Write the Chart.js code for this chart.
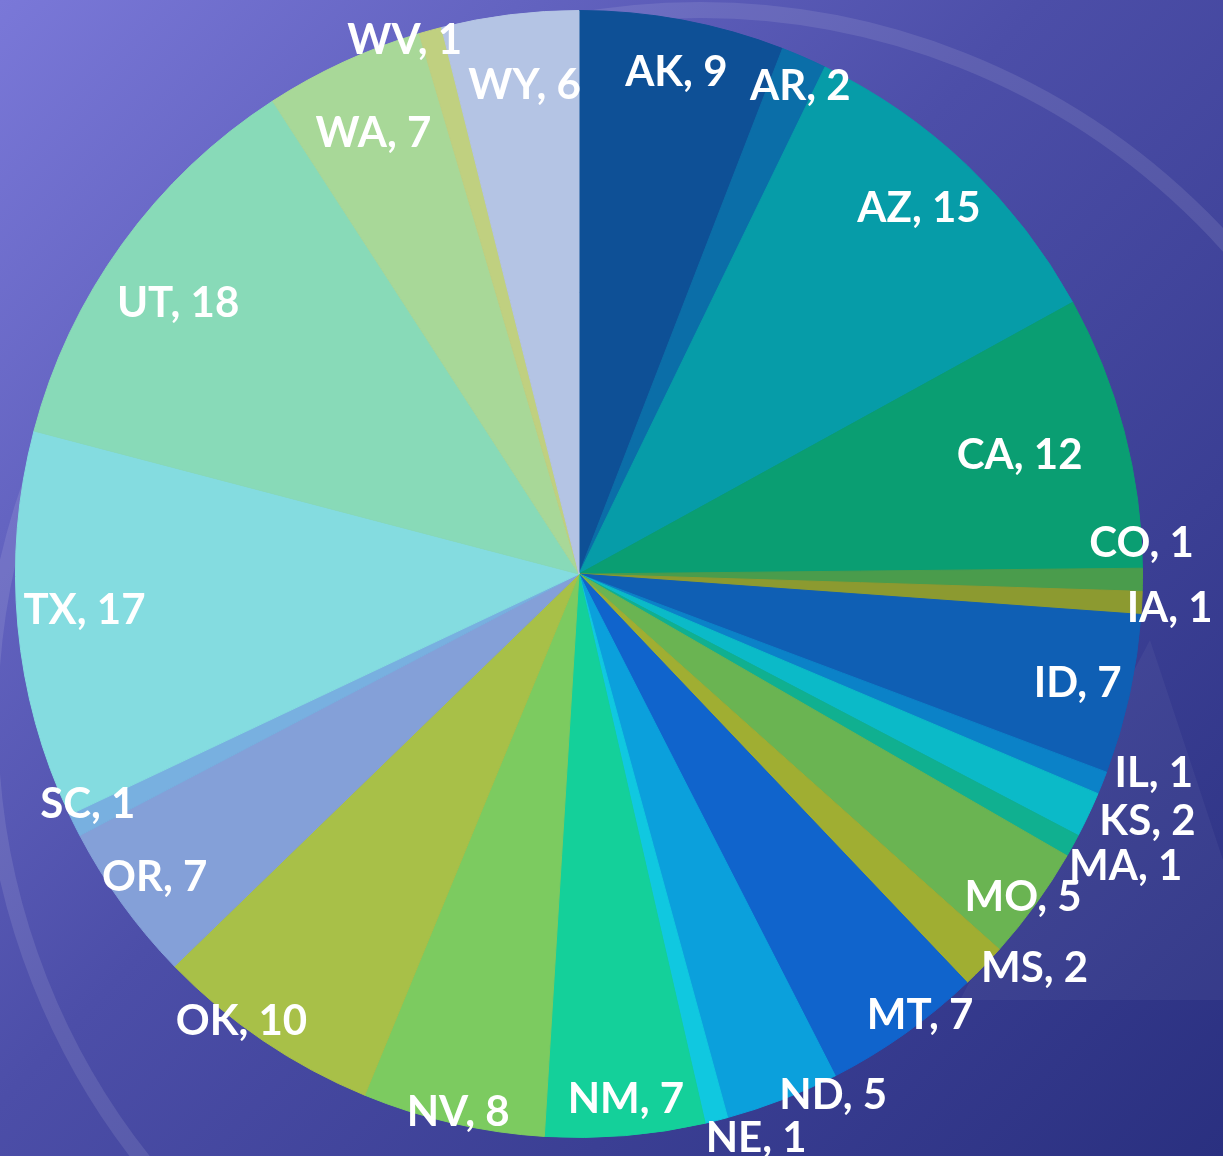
<!DOCTYPE html>
<html>
<head>
<meta charset="utf-8">
<script src="https://cdn.jsdelivr.net/npm/chart.js@4.4.1/dist/chart.umd.min.js"></script>
<style>
  html, body { margin: 0; padding: 0; }
  body { width: 1223px; height: 1156px; overflow: hidden; }
  #wrap { position: relative; width: 1223px; height: 1156px; }
</style>
</head>
<body>
<div id="wrap"><canvas id="pieChart"></canvas></div>
<script>
const states = ['AK', 'AR', 'AZ', 'CA', 'CO', 'IA', 'ID', 'IL', 'KS', 'MA', 'MO', 'MS', 'MT',
  'ND', 'NE', 'NM', 'NV', 'OK', 'OR', 'SC', 'TX', 'UT', 'WA', 'WV', 'WY'];
const counts = [9, 2, 15, 12, 1, 1, 7, 1, 2, 1, 5, 2, 7, 5, 1, 7, 8, 10, 7, 1, 17, 18, 7, 1, 6];

const sliceColors = [
  '#0e5096', '#0b6ea8', '#069ca8', '#0a9e72', '#4a9c4c', '#8c9a30', '#0f5fb4', '#0b82c8',
  '#0bbac8', '#10b090', '#6ab452', '#a0ae32', '#1064cc', '#0ba0dc', '#10c8e0', '#14d09a',
  '#7ccb60', '#a8c048', '#84a0d8', '#78b0e0', '#84dce0', '#88dab8', '#a8d898', '#c0d080',
  '#b4c4e4'
];

// label placement: fraction of outer radius, and angle nudge in degrees
const labelRadius = [0.906, 0.95, 0.886, 0.81, 1.0, 1.05, 0.906, 1.08, 1.1, 1.1, 0.975, 1.07, 0.99,
  1.03, 1.05, 0.936, 0.98, 0.995, 0.926, 0.963, 0.88, 0.858, 0.863, 0.996, 0.872];
const labelNudge = [0.4, 0.9, -0.6, -0.4, -3.7, 0.4, 0, -2.6, -1.8, -0.7, 0.2, -3.2, -2.4,
  -4.8, -3.3, -0.4, -0.3, 2.9, 0.3, 1.3, 1.1, -1.9, -0.3, -2.8, 0.7];

const backdrop = {
  id: 'backdrop',
  beforeDraw: (chart) => {
    const ctx = chart.ctx;
    const w = chart.width, h = chart.height;
    ctx.save();
    const g = ctx.createLinearGradient(0, 0, w, h);
    g.addColorStop(0, '#7a78d8');
    g.addColorStop(0.45, '#4c4ea8');
    g.addColorStop(1, '#2a3080');
    ctx.fillStyle = g;
    ctx.fillRect(0, 0, w, h);
    // faint decorative ring
    ctx.beginPath();
    ctx.arc(700, 720, 710, 0, Math.PI * 2);
    ctx.strokeStyle = 'rgba(255,255,255,0.10)';
    ctx.lineWidth = 16;
    ctx.stroke();
    // faint triangle at lower right
    ctx.beginPath();
    ctx.moveTo(1150, 640);
    ctx.lineTo(1223, 860);
    ctx.lineTo(1223, 1000);
    ctx.lineTo(960, 1000);
    ctx.closePath();
    ctx.fillStyle = 'rgba(255,255,255,0.045)';
    ctx.fill();
    ctx.restore();
  },
};

const sliceLabels = {
  id: 'sliceLabels',
  afterDatasetsDraw: (chart) => {
    const ctx = chart.ctx;
    const meta = chart.getDatasetMeta(0);
    ctx.save();
    ctx.font = 'bold 42px Lato, sans-serif';
    ctx.fillStyle = '#ffffff';
    ctx.textAlign = 'center';
    ctx.textBaseline = 'middle';
    meta.data.forEach((arc, i) => {
      const p = arc.getProps(['x', 'y', 'startAngle', 'endAngle', 'outerRadius'], true);
      const a = (p.startAngle + p.endAngle) / 2 + labelNudge[i] * Math.PI / 180;
      const r = p.outerRadius * labelRadius[i];
      ctx.fillText(states[i] + ', ' + counts[i], p.x + r * Math.cos(a), p.y + r * Math.sin(a));
    });
    ctx.restore();
  },
};

const ctx = document.getElementById('pieChart').getContext('2d');
new Chart(ctx, {
  type: 'pie',
  data: {
    labels: states,
    datasets: [{
      data: counts,
      backgroundColor: sliceColors,
      borderColor: sliceColors,
      borderWidth: 1,
    }],
  },
  options: {
    responsive: true,
    maintainAspectRatio: false,
    animation: false,
    layout: { padding: { left: 15, right: 80, top: 10, bottom: 18 } },
    plugins: {
      legend: { display: false },
      tooltip: { enabled: false },
    },
  },
  plugins: [backdrop, sliceLabels],
});
</script>
</body>
</html>
